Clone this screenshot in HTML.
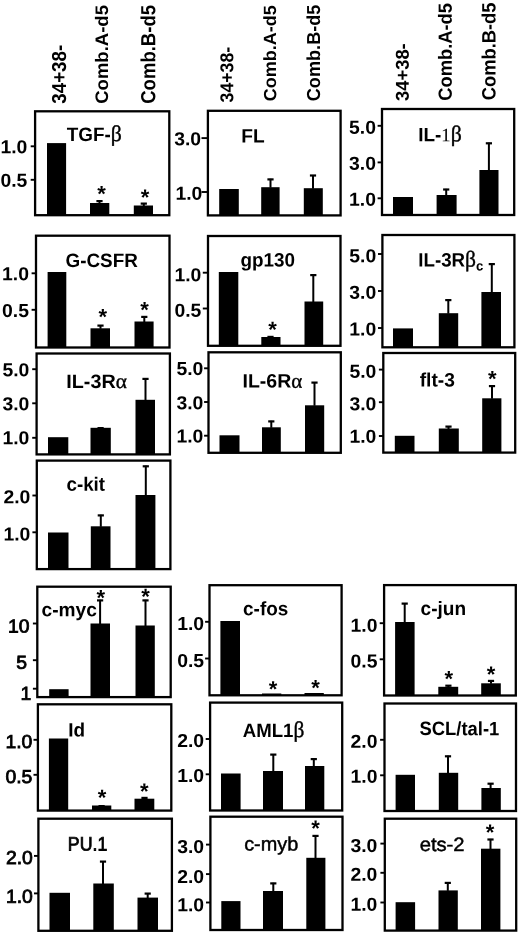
<!DOCTYPE html>
<html lang="en"><head><meta charset="utf-8"><title>Figure</title>
<style>html,body{margin:0;padding:0;background:#fff}svg{display:block}text{font-family:"Liberation Sans", sans-serif;font-weight:bold;fill:#000;font-kerning:none}.g{font-family:"Liberation Serif", serif;font-weight:normal;stroke:#000;stroke-width:0.4px}.h{stroke-width:0.15px}</style></head><body>
<svg width="520" height="935" viewBox="0 0 520 935">
<rect width="520" height="935" fill="#fff"/>
<g>
<rect x="35.1" y="111.3" width="134.2" height="103.9" fill="none" stroke="#000" stroke-width="2.3"/>
<line x1="30.7" y1="146.3" x2="35.1" y2="146.3" stroke="#000" stroke-width="1.9"/>
<text transform="translate(27.3 153.26) scale(1.03 1) rotate(0.04)" text-anchor="end" font-size="18.8">1.0</text>
<line x1="30.7" y1="179.8" x2="35.1" y2="179.8" stroke="#000" stroke-width="1.9"/>
<text transform="translate(27.3 186.76) scale(1.03 1) rotate(0.04)" text-anchor="end" font-size="18.8">0.5</text>
<rect x="47" y="143.1" width="19.1" height="72.1" fill="#000"/>
<rect x="90" y="203" width="19.3" height="12.2" fill="#000"/>
<path d="M99.5 203.5V200.5" stroke="#000" stroke-width="2" fill="none"/><path d="M96.4 201.1H102.6" stroke="#000" stroke-width="2.2" fill="none"/>
<rect x="133.8" y="205.5" width="19.2" height="9.7" fill="#000"/>
<path d="M143.8 206V203" stroke="#000" stroke-width="2" fill="none"/><path d="M140.7 203.6H146.9" stroke="#000" stroke-width="2.2" fill="none"/>
<text transform="translate(101.5 201.34) rotate(0.04)" text-anchor="middle" font-size="22.0">*</text>
<text transform="translate(145 204.64) rotate(0.04)" text-anchor="middle" font-size="22.0">*</text>
<text transform="translate(66.79 141) scale(0.974 1) rotate(0.04)" font-size="19.4" style="font-weight:bold">TGF-<tspan class="g" font-size="22.31">β</tspan></text>
</g>
<g>
<rect x="207.9" y="110.8" width="132.7" height="104.6" fill="none" stroke="#000" stroke-width="2.3"/>
<line x1="201.5" y1="138.1" x2="207.9" y2="138.1" stroke="#000" stroke-width="1.9"/>
<text transform="translate(201.1 145.36) scale(1.03 1) rotate(0.04)" text-anchor="end" font-size="18.8">3.0</text>
<line x1="201.5" y1="192" x2="207.9" y2="192" stroke="#000" stroke-width="1.9"/>
<text transform="translate(202.4 199.76) scale(1.03 1) rotate(0.04)" text-anchor="end" font-size="18.8">1.0</text>
<rect x="219.2" y="189" width="19.6" height="26.4" fill="#000"/>
<rect x="261.2" y="187.2" width="18.4" height="28.2" fill="#000"/>
<path d="M270.5 187.7V178.8" stroke="#000" stroke-width="2" fill="none"/><path d="M267.4 179.4H273.6" stroke="#000" stroke-width="2.2" fill="none"/>
<rect x="303.8" y="188.2" width="19" height="27.2" fill="#000"/>
<path d="M313 188.7V174.9" stroke="#000" stroke-width="2" fill="none"/><path d="M309.9 175.5H316.1" stroke="#000" stroke-width="2.2" fill="none"/>
<text transform="translate(241.22 142.5) scale(0.986 1) rotate(0.04)" font-size="19.4" style="font-weight:bold">FL</text>
</g>
<g>
<rect x="382" y="109" width="132.2" height="106" fill="none" stroke="#000" stroke-width="2.3"/>
<line x1="377.6" y1="125.8" x2="382" y2="125.8" stroke="#000" stroke-width="1.9"/>
<text transform="translate(376 133.86) scale(1.03 1) rotate(0.04)" text-anchor="end" font-size="18.8">5.0</text>
<line x1="377.6" y1="162.4" x2="382" y2="162.4" stroke="#000" stroke-width="1.9"/>
<text transform="translate(376 169.86) scale(1.03 1) rotate(0.04)" text-anchor="end" font-size="18.8">3.0</text>
<line x1="377.6" y1="198.3" x2="382" y2="198.3" stroke="#000" stroke-width="1.9"/>
<text transform="translate(376 205.76) scale(1.03 1) rotate(0.04)" text-anchor="end" font-size="18.8">1.0</text>
<rect x="393" y="197" width="20" height="18" fill="#000"/>
<rect x="436.6" y="195" width="20" height="20" fill="#000"/>
<path d="M446.2 195.5V188.9" stroke="#000" stroke-width="2" fill="none"/><path d="M443.1 189.5H449.3" stroke="#000" stroke-width="2.2" fill="none"/>
<rect x="479.4" y="170" width="19.1" height="45" fill="#000"/>
<path d="M488.9 170.5V142.7" stroke="#000" stroke-width="2" fill="none"/><path d="M485.8 143.3H492" stroke="#000" stroke-width="2.2" fill="none"/>
<text transform="translate(418.23 141.2) scale(0.976 1) rotate(0.04)" font-size="19.4" style="font-weight:bold">IL-<tspan class="g h" font-size="19.01">1</tspan><tspan class="g" font-size="22.31">β</tspan></text>
</g>
<g>
<rect x="36" y="235.7" width="133.5" height="111.8" fill="none" stroke="#000" stroke-width="2.3"/>
<line x1="31.6" y1="273.3" x2="36" y2="273.3" stroke="#000" stroke-width="1.9"/>
<text transform="translate(29 280.36) scale(1.03 1) rotate(0.04)" text-anchor="end" font-size="18.8">1.0</text>
<line x1="31.6" y1="309.8" x2="36" y2="309.8" stroke="#000" stroke-width="1.9"/>
<text transform="translate(29 317.06) scale(1.03 1) rotate(0.04)" text-anchor="end" font-size="18.8">0.5</text>
<rect x="47.6" y="272" width="18.7" height="75.5" fill="#000"/>
<rect x="90.5" y="328.3" width="19.5" height="19.2" fill="#000"/>
<path d="M100.5 328.8V325" stroke="#000" stroke-width="2" fill="none"/><path d="M97.4 325.6H103.6" stroke="#000" stroke-width="2.2" fill="none"/>
<rect x="134.5" y="321.5" width="19.1" height="26" fill="#000"/>
<path d="M144.3 322V316.3" stroke="#000" stroke-width="2" fill="none"/><path d="M141.2 316.9H147.4" stroke="#000" stroke-width="2.2" fill="none"/>
<text transform="translate(102.8 324.24) rotate(0.04)" text-anchor="middle" font-size="22.0">*</text>
<text transform="translate(144.5 317.34) rotate(0.04)" text-anchor="middle" font-size="22.0">*</text>
<text transform="translate(65.53 266.9) scale(0.973 1) rotate(0.04)" font-size="19.4" style="font-weight:bold">G-CSFR</text>
</g>
<g>
<rect x="208" y="236" width="132.5" height="109.8" fill="none" stroke="#000" stroke-width="2.3"/>
<line x1="202.8" y1="272.7" x2="208" y2="272.7" stroke="#000" stroke-width="1.9"/>
<text transform="translate(201.4 281.16) scale(1.03 1) rotate(0.04)" text-anchor="end" font-size="18.8">1.0</text>
<line x1="202.8" y1="308.5" x2="208" y2="308.5" stroke="#000" stroke-width="1.9"/>
<text transform="translate(201.4 316.86) scale(1.03 1) rotate(0.04)" text-anchor="end" font-size="18.8">0.5</text>
<rect x="218.8" y="272" width="19.5" height="73.8" fill="#000"/>
<rect x="261.3" y="337" width="19.2" height="8.8" fill="#000"/>
<path d="M270.5 337.5V336.3" stroke="#000" stroke-width="2" fill="none"/><path d="M267.4 336.9H273.6" stroke="#000" stroke-width="2.2" fill="none"/>
<rect x="304.5" y="301.5" width="18.7" height="44.3" fill="#000"/>
<path d="M313.3 302V274.5" stroke="#000" stroke-width="2" fill="none"/><path d="M310.2 275.1H316.4" stroke="#000" stroke-width="2.2" fill="none"/>
<text transform="translate(272.5 337.04) rotate(0.04)" text-anchor="middle" font-size="22.0">*</text>
<text transform="translate(240.53 266.5) scale(0.973 1) rotate(0.04)" font-size="19.4" style="font-weight:bold">gp130</text>
</g>
<g>
<rect x="382.4" y="235" width="132" height="112.3" fill="none" stroke="#000" stroke-width="2.3"/>
<line x1="378" y1="254" x2="382.4" y2="254" stroke="#000" stroke-width="1.9"/>
<text transform="translate(376.2 262.36) scale(1.03 1) rotate(0.04)" text-anchor="end" font-size="18.8">5.0</text>
<line x1="378" y1="291" x2="382.4" y2="291" stroke="#000" stroke-width="1.9"/>
<text transform="translate(376.2 298.66) scale(1.03 1) rotate(0.04)" text-anchor="end" font-size="18.8">3.0</text>
<line x1="378" y1="328" x2="382.4" y2="328" stroke="#000" stroke-width="1.9"/>
<text transform="translate(376.2 335.56) scale(1.03 1) rotate(0.04)" text-anchor="end" font-size="18.8">1.0</text>
<rect x="393" y="328.4" width="20" height="18.9" fill="#000"/>
<rect x="438.8" y="313.2" width="19.4" height="34.1" fill="#000"/>
<path d="M448.3 313.7V299.5" stroke="#000" stroke-width="2" fill="none"/><path d="M445.2 300.1H451.4" stroke="#000" stroke-width="2.2" fill="none"/>
<rect x="481.4" y="292" width="19.6" height="55.3" fill="#000"/>
<path d="M491.8 292.5V263.5" stroke="#000" stroke-width="2" fill="none"/><path d="M488.7 264.1H494.9" stroke="#000" stroke-width="2.2" fill="none"/>
<text transform="translate(418.25 266.5) scale(0.966 1) rotate(0.04)" font-size="19.4" style="font-weight:bold">IL-3R<tspan class="g" font-size="22.31">β</tspan><tspan dy="3.88" font-size="13.58">c</tspan></text>
</g>
<g>
<rect x="36.6" y="353.5" width="133.3" height="100.9" fill="none" stroke="#000" stroke-width="2.3"/>
<line x1="32.2" y1="369.2" x2="36.6" y2="369.2" stroke="#000" stroke-width="1.9"/>
<text transform="translate(29.3 376.26) scale(1.03 1) rotate(0.04)" text-anchor="end" font-size="18.8">5.0</text>
<line x1="32.2" y1="403.3" x2="36.6" y2="403.3" stroke="#000" stroke-width="1.9"/>
<text transform="translate(29.3 410.36) scale(1.03 1) rotate(0.04)" text-anchor="end" font-size="18.8">3.0</text>
<line x1="32.2" y1="437.8" x2="36.6" y2="437.8" stroke="#000" stroke-width="1.9"/>
<text transform="translate(29.3 444.16) scale(1.03 1) rotate(0.04)" text-anchor="end" font-size="18.8">1.0</text>
<rect x="48" y="437.2" width="20.3" height="17.2" fill="#000"/>
<rect x="90.5" y="427.8" width="20.3" height="26.6" fill="#000"/>
<path d="M100.6 428.3V427.5" stroke="#000" stroke-width="2" fill="none"/><path d="M97.5 428.1H103.7" stroke="#000" stroke-width="2.2" fill="none"/>
<rect x="135.5" y="399.8" width="19.5" height="54.6" fill="#000"/>
<path d="M145.5 400.3V378.3" stroke="#000" stroke-width="2" fill="none"/><path d="M142.4 378.9H148.6" stroke="#000" stroke-width="2.2" fill="none"/>
<text transform="translate(66.28 388) scale(1.019 1) rotate(0.04)" font-size="19.4" style="font-weight:bold">IL-3R<tspan class="g" font-size="20.95">α</tspan></text>
</g>
<g>
<rect x="208.5" y="352.3" width="132.3" height="100.5" fill="none" stroke="#000" stroke-width="2.3"/>
<line x1="204.1" y1="368.3" x2="208.5" y2="368.3" stroke="#000" stroke-width="1.9"/>
<text transform="translate(203.3 375.06) scale(1.03 1) rotate(0.04)" text-anchor="end" font-size="18.8">5.0</text>
<line x1="204.1" y1="402" x2="208.5" y2="402" stroke="#000" stroke-width="1.9"/>
<text transform="translate(203.3 409.16) scale(1.03 1) rotate(0.04)" text-anchor="end" font-size="18.8">3.0</text>
<line x1="204.1" y1="435.7" x2="208.5" y2="435.7" stroke="#000" stroke-width="1.9"/>
<text transform="translate(203.3 442.46) scale(1.03 1) rotate(0.04)" text-anchor="end" font-size="18.8">1.0</text>
<rect x="219.5" y="435.3" width="20" height="17.5" fill="#000"/>
<rect x="262" y="427.3" width="18.8" height="25.5" fill="#000"/>
<path d="M271.3 427.8V420.8" stroke="#000" stroke-width="2" fill="none"/><path d="M268.2 421.4H274.4" stroke="#000" stroke-width="2.2" fill="none"/>
<rect x="305" y="405.3" width="19.2" height="47.5" fill="#000"/>
<path d="M314.5 405.8V382" stroke="#000" stroke-width="2" fill="none"/><path d="M311.4 382.6H317.6" stroke="#000" stroke-width="2.2" fill="none"/>
<text transform="translate(242.5 387.6) scale(1.005 1) rotate(0.04)" font-size="19.4" style="font-weight:bold">IL-6R<tspan class="g" font-size="20.95">α</tspan></text>
</g>
<g>
<rect x="383.3" y="353" width="131.9" height="99.6" fill="none" stroke="#000" stroke-width="2.3"/>
<line x1="378.9" y1="369.6" x2="383.3" y2="369.6" stroke="#000" stroke-width="1.9"/>
<text transform="translate(376.4 377.76) scale(1.03 1) rotate(0.04)" text-anchor="end" font-size="18.8">5.0</text>
<line x1="378.9" y1="402.2" x2="383.3" y2="402.2" stroke="#000" stroke-width="1.9"/>
<text transform="translate(376.4 410.26) scale(1.03 1) rotate(0.04)" text-anchor="end" font-size="18.8">3.0</text>
<line x1="378.9" y1="436" x2="383.3" y2="436" stroke="#000" stroke-width="1.9"/>
<text transform="translate(376.4 442.86) scale(1.03 1) rotate(0.04)" text-anchor="end" font-size="18.8">1.0</text>
<rect x="394.8" y="435.8" width="19.7" height="16.8" fill="#000"/>
<rect x="438.8" y="428.5" width="20" height="24.1" fill="#000"/>
<path d="M448.5 429V426" stroke="#000" stroke-width="2" fill="none"/><path d="M445.4 426.6H451.6" stroke="#000" stroke-width="2.2" fill="none"/>
<rect x="482.2" y="398.3" width="19.2" height="54.3" fill="#000"/>
<path d="M492 398.8V385.5" stroke="#000" stroke-width="2" fill="none"/><path d="M488.9 386.1H495.1" stroke="#000" stroke-width="2.2" fill="none"/>
<text transform="translate(492.3 386.34) rotate(0.04)" text-anchor="middle" font-size="22.0">*</text>
<text transform="translate(419.67 386.6) scale(0.991 1) rotate(0.04)" font-size="19.4" style="font-weight:bold">flt-3</text>
</g>
<g>
<rect x="36.8" y="460.6" width="133.6" height="108.5" fill="none" stroke="#000" stroke-width="2.3"/>
<line x1="32.4" y1="495.5" x2="36.8" y2="495.5" stroke="#000" stroke-width="1.9"/>
<text transform="translate(30.3 503.36) scale(1.03 1) rotate(0.04)" text-anchor="end" font-size="18.8">2.0</text>
<line x1="32.4" y1="532.3" x2="36.8" y2="532.3" stroke="#000" stroke-width="1.9"/>
<text transform="translate(30.3 540.46) scale(1.03 1) rotate(0.04)" text-anchor="end" font-size="18.8">1.0</text>
<rect x="48" y="532.5" width="20.5" height="36.6" fill="#000"/>
<rect x="90.8" y="526.3" width="19.7" height="42.8" fill="#000"/>
<path d="M100.8 526.8V514.8" stroke="#000" stroke-width="2" fill="none"/><path d="M97.7 515.4H103.9" stroke="#000" stroke-width="2.2" fill="none"/>
<rect x="135.5" y="495" width="19.9" height="74.1" fill="#000"/>
<path d="M145.8 495.5V465.7" stroke="#000" stroke-width="2" fill="none"/><path d="M142.7 466.3H148.9" stroke="#000" stroke-width="2.2" fill="none"/>
<text transform="translate(66.47 490.7) scale(0.967 1) rotate(0.04)" font-size="19.4" style="font-weight:bold">c-kit</text>
</g>
<g>
<rect x="37.3" y="586.7" width="133.4" height="110.4" fill="none" stroke="#000" stroke-width="2.3"/>
<line x1="32.9" y1="623.5" x2="37.3" y2="623.5" stroke="#000" stroke-width="1.9"/>
<text transform="translate(29.6 632.56) scale(1.03 1) rotate(0.04)" text-anchor="end" font-size="18.8" style="font-weight:normal;stroke:#000;stroke-width:0.8px">10</text>
<line x1="32.9" y1="660.2" x2="37.3" y2="660.2" stroke="#000" stroke-width="1.9"/>
<text transform="translate(27.1 668.76) scale(1.03 1) rotate(0.04)" text-anchor="end" font-size="18.8" style="font-weight:normal;stroke:#000;stroke-width:0.8px">5</text>
<line x1="32.9" y1="688.7" x2="37.3" y2="688.7" stroke="#000" stroke-width="1.9"/>
<text transform="translate(31.4 699.76) scale(1.03 1) rotate(0.04)" text-anchor="end" font-size="18.8" style="font-weight:normal;stroke:#000;stroke-width:0.8px">1</text>
<rect x="49.2" y="689.2" width="19.4" height="7.9" fill="#000"/>
<rect x="90.5" y="623.5" width="19.5" height="73.6" fill="#000"/>
<path d="M100.1 624V599.8" stroke="#000" stroke-width="2" fill="none"/><path d="M97 600.4H103.2" stroke="#000" stroke-width="2.2" fill="none"/>
<rect x="135.5" y="625.5" width="19.3" height="71.6" fill="#000"/>
<path d="M145.5 626V599.8" stroke="#000" stroke-width="2" fill="none"/><path d="M142.4 600.4H148.6" stroke="#000" stroke-width="2.2" fill="none"/>
<text transform="translate(100.8 605.34) rotate(0.04)" text-anchor="middle" font-size="22.0">*</text>
<text transform="translate(145.5 604.04) rotate(0.04)" text-anchor="middle" font-size="22.0">*</text>
<text transform="translate(41.55 616.3) scale(0.986 1) rotate(0.04)" font-size="19.4" style="font-weight:bold">c-myc</text>
</g>
<g>
<rect x="209.5" y="585.2" width="132.1" height="110.1" fill="none" stroke="#000" stroke-width="2.3"/>
<line x1="205.1" y1="621.8" x2="209.5" y2="621.8" stroke="#000" stroke-width="1.9"/>
<text transform="translate(204.1 629.96) scale(1.03 1) rotate(0.04)" text-anchor="end" font-size="18.8">1.0</text>
<line x1="205.1" y1="658.5" x2="209.5" y2="658.5" stroke="#000" stroke-width="1.9"/>
<text transform="translate(204.1 667.06) scale(1.03 1) rotate(0.04)" text-anchor="end" font-size="18.8">0.5</text>
<rect x="220.4" y="621" width="19.6" height="74.3" fill="#000"/>
<rect x="262" y="693.5" width="19.3" height="1.8" fill="#000"/>
<rect x="304.5" y="693" width="19.3" height="2.3" fill="#000"/>
<text transform="translate(273 696.54) rotate(0.04)" text-anchor="middle" font-size="22.0">*</text>
<text transform="translate(315.5 695.34) rotate(0.04)" text-anchor="middle" font-size="22.0">*</text>
<text transform="translate(243.06 615.3) scale(0.976 1) rotate(0.04)" font-size="19.4" style="font-weight:bold">c-fos</text>
</g>
<g>
<rect x="384.1" y="585.1" width="131.7" height="110.4" fill="none" stroke="#000" stroke-width="2.3"/>
<line x1="379.7" y1="623.2" x2="384.1" y2="623.2" stroke="#000" stroke-width="1.9"/>
<text transform="translate(377.5 631.76) scale(1.03 1) rotate(0.04)" text-anchor="end" font-size="18.8">1.0</text>
<line x1="379.7" y1="659.3" x2="384.1" y2="659.3" stroke="#000" stroke-width="1.9"/>
<text transform="translate(377.5 667.46) scale(1.03 1) rotate(0.04)" text-anchor="end" font-size="18.8">0.5</text>
<rect x="395.1" y="622" width="19.5" height="73.5" fill="#000"/>
<path d="M404.7 622.5V603" stroke="#000" stroke-width="2" fill="none"/><path d="M401.6 603.6H407.8" stroke="#000" stroke-width="2.2" fill="none"/>
<rect x="438.3" y="686.8" width="19.9" height="8.7" fill="#000"/>
<path d="M448.4 687.3V685.1" stroke="#000" stroke-width="2" fill="none"/><path d="M445.3 685.7H451.5" stroke="#000" stroke-width="2.2" fill="none"/>
<rect x="481.2" y="683.3" width="19.6" height="12.2" fill="#000"/>
<path d="M491 683.8V680.3" stroke="#000" stroke-width="2" fill="none"/><path d="M487.9 680.9H494.1" stroke="#000" stroke-width="2.2" fill="none"/>
<text transform="translate(448.9 686.34) rotate(0.04)" text-anchor="middle" font-size="22.0">*</text>
<text transform="translate(491 681.74) rotate(0.04)" text-anchor="middle" font-size="22.0">*</text>
<text transform="translate(420.56 615) scale(0.982 1) rotate(0.04)" font-size="19.4" style="font-weight:bold">c-jun</text>
</g>
<g>
<rect x="37.9" y="704.3" width="133.4" height="106.3" fill="none" stroke="#000" stroke-width="2.3"/>
<line x1="33.5" y1="739.8" x2="37.9" y2="739.8" stroke="#000" stroke-width="1.9"/>
<text transform="translate(32.3 747.96) scale(1.03 1) rotate(0.04)" text-anchor="end" font-size="18.8" style="font-weight:normal;stroke:#000;stroke-width:0.8px">1.0</text>
<line x1="33.5" y1="774.8" x2="37.9" y2="774.8" stroke="#000" stroke-width="1.9"/>
<text transform="translate(32.3 782.96) scale(1.03 1) rotate(0.04)" text-anchor="end" font-size="18.8" style="font-weight:normal;stroke:#000;stroke-width:0.8px">0.5</text>
<rect x="48.9" y="738.5" width="19.3" height="72.1" fill="#000"/>
<rect x="92" y="805.5" width="19.3" height="5.1" fill="#000"/>
<path d="M101.6 806V805.5" stroke="#000" stroke-width="2" fill="none"/><path d="M98.5 806.1H104.7" stroke="#000" stroke-width="2.2" fill="none"/>
<rect x="134.5" y="798.7" width="19.8" height="11.9" fill="#000"/>
<path d="M144.5 799.2V797.3" stroke="#000" stroke-width="2" fill="none"/><path d="M141.4 797.9H147.6" stroke="#000" stroke-width="2.2" fill="none"/>
<text transform="translate(102 805.04) rotate(0.04)" text-anchor="middle" font-size="22.0">*</text>
<text transform="translate(144.3 798.84) rotate(0.04)" text-anchor="middle" font-size="22.0">*</text>
<text transform="translate(68.23 736.4) scale(0.975 1) rotate(0.04)" font-size="19.4" style="font-weight:bold">Id</text>
</g>
<g>
<rect x="210.1" y="702.6" width="132.1" height="107.9" fill="none" stroke="#000" stroke-width="2.3"/>
<line x1="205.7" y1="739" x2="210.1" y2="739" stroke="#000" stroke-width="1.9"/>
<text transform="translate(204.1 746.96) scale(1.03 1) rotate(0.04)" text-anchor="end" font-size="18.8">2.0</text>
<line x1="205.7" y1="774.3" x2="210.1" y2="774.3" stroke="#000" stroke-width="1.9"/>
<text transform="translate(204.1 782.06) scale(1.03 1) rotate(0.04)" text-anchor="end" font-size="18.8">1.0</text>
<rect x="221" y="773.5" width="19.6" height="37" fill="#000"/>
<rect x="263" y="771" width="20" height="39.5" fill="#000"/>
<path d="M273.3 771.5V754" stroke="#000" stroke-width="2" fill="none"/><path d="M270.2 754.6H276.4" stroke="#000" stroke-width="2.2" fill="none"/>
<rect x="305" y="766" width="19.3" height="44.5" fill="#000"/>
<path d="M313.8 766.5V758.5" stroke="#000" stroke-width="2" fill="none"/><path d="M310.7 759.1H316.9" stroke="#000" stroke-width="2.2" fill="none"/>
<text transform="translate(242.74 736.9) scale(0.96 1) rotate(0.04)" font-size="19.4" style="font-weight:bold">AML1<tspan class="g" font-size="22.31">β</tspan></text>
</g>
<g>
<rect x="384.5" y="703.5" width="131.5" height="107.5" fill="none" stroke="#000" stroke-width="2.3"/>
<line x1="380.1" y1="739.8" x2="384.5" y2="739.8" stroke="#000" stroke-width="1.9"/>
<text transform="translate(377.5 747.76) scale(1.03 1) rotate(0.04)" text-anchor="end" font-size="18.8">2.0</text>
<line x1="380.1" y1="775.3" x2="384.5" y2="775.3" stroke="#000" stroke-width="1.9"/>
<text transform="translate(377.5 782.86) scale(1.03 1) rotate(0.04)" text-anchor="end" font-size="18.8">1.0</text>
<rect x="395.6" y="774.8" width="19.4" height="36.2" fill="#000"/>
<rect x="438.8" y="772.8" width="19.4" height="38.2" fill="#000"/>
<path d="M448 773.3V755.7" stroke="#000" stroke-width="2" fill="none"/><path d="M444.9 756.3H451.1" stroke="#000" stroke-width="2.2" fill="none"/>
<rect x="481.4" y="788" width="19.4" height="23" fill="#000"/>
<path d="M490.6 788.5V783.1" stroke="#000" stroke-width="2" fill="none"/><path d="M487.5 783.7H493.7" stroke="#000" stroke-width="2.2" fill="none"/>
<text transform="translate(419.47 735.1) scale(0.95 1) rotate(0.04)" font-size="19.4" style="font-weight:bold">SCL/tal-1</text>
</g>
<g>
<rect x="38.4" y="818.7" width="133.5" height="112.1" fill="none" stroke="#000" stroke-width="2.3"/>
<line x1="34" y1="855.9" x2="38.4" y2="855.9" stroke="#000" stroke-width="1.9"/>
<text transform="translate(32.8 864.06) scale(1.03 1) rotate(0.04)" text-anchor="end" font-size="18.8" style="font-weight:normal;stroke:#000;stroke-width:0.8px">2.0</text>
<line x1="34" y1="893.4" x2="38.4" y2="893.4" stroke="#000" stroke-width="1.9"/>
<text transform="translate(32.8 902.76) scale(1.03 1) rotate(0.04)" text-anchor="end" font-size="18.8" style="font-weight:normal;stroke:#000;stroke-width:0.8px">1.0</text>
<rect x="49.5" y="892.8" width="20.5" height="38" fill="#000"/>
<rect x="93.3" y="883.5" width="20.5" height="47.3" fill="#000"/>
<path d="M103 884V861" stroke="#000" stroke-width="2" fill="none"/><path d="M99.9 861.6H106.1" stroke="#000" stroke-width="2.2" fill="none"/>
<rect x="137.5" y="897.6" width="20.5" height="33.2" fill="#000"/>
<path d="M147.7 898.1V893" stroke="#000" stroke-width="2" fill="none"/><path d="M144.6 893.6H150.8" stroke="#000" stroke-width="2.2" fill="none"/>
<text transform="translate(67.84 850.6) scale(0.916 1) rotate(0.04)" font-size="19.4" style="font-weight:normal;stroke:#000;stroke-width:0.8px">PU.1</text>
</g>
<g>
<rect x="210.4" y="816.7" width="132.1" height="113.3" fill="none" stroke="#000" stroke-width="2.3"/>
<line x1="206" y1="844.6" x2="210.4" y2="844.6" stroke="#000" stroke-width="1.9"/>
<text transform="translate(204.1 853.06) scale(1.03 1) rotate(0.04)" text-anchor="end" font-size="18.8">3.0</text>
<line x1="206" y1="874.1" x2="210.4" y2="874.1" stroke="#000" stroke-width="1.9"/>
<text transform="translate(204.1 883.06) scale(1.03 1) rotate(0.04)" text-anchor="end" font-size="18.8">2.0</text>
<line x1="206" y1="902.5" x2="210.4" y2="902.5" stroke="#000" stroke-width="1.9"/>
<text transform="translate(204.1 911.36) scale(1.03 1) rotate(0.04)" text-anchor="end" font-size="18.8">1.0</text>
<rect x="221.3" y="901.1" width="19.2" height="28.9" fill="#000"/>
<rect x="263" y="891" width="20" height="39" fill="#000"/>
<path d="M273.3 891.5V882.8" stroke="#000" stroke-width="2" fill="none"/><path d="M270.2 883.4H276.4" stroke="#000" stroke-width="2.2" fill="none"/>
<rect x="306.3" y="857.8" width="19.1" height="72.2" fill="#000"/>
<path d="M315.5 858.3V835.3" stroke="#000" stroke-width="2" fill="none"/><path d="M312.4 835.9H318.6" stroke="#000" stroke-width="2.2" fill="none"/>
<text transform="translate(315.5 835.84) rotate(0.04)" text-anchor="middle" font-size="22.0">*</text>
<text transform="translate(244.15 850.5) scale(1.026 1) rotate(0.04)" font-size="19.4" style="font-weight:normal;stroke:#000;stroke-width:0.45px">c-myb</text>
</g>
<g>
<rect x="384.8" y="818.7" width="131.4" height="111.9" fill="none" stroke="#000" stroke-width="2.3"/>
<line x1="380.4" y1="843.6" x2="384.8" y2="843.6" stroke="#000" stroke-width="1.9"/>
<text transform="translate(377.4 851.96) scale(1.03 1) rotate(0.04)" text-anchor="end" font-size="18.8">3.0</text>
<line x1="380.4" y1="872.8" x2="384.8" y2="872.8" stroke="#000" stroke-width="1.9"/>
<text transform="translate(377.4 880.76) scale(1.03 1) rotate(0.04)" text-anchor="end" font-size="18.8">2.0</text>
<line x1="380.4" y1="902.5" x2="384.8" y2="902.5" stroke="#000" stroke-width="1.9"/>
<text transform="translate(377.4 910.76) scale(1.03 1) rotate(0.04)" text-anchor="end" font-size="18.8">1.0</text>
<rect x="395.6" y="902.2" width="19.5" height="28.4" fill="#000"/>
<rect x="438.5" y="890.4" width="19.3" height="40.2" fill="#000"/>
<path d="M447.8 890.9V882.3" stroke="#000" stroke-width="2" fill="none"/><path d="M444.7 882.9H450.9" stroke="#000" stroke-width="2.2" fill="none"/>
<rect x="481" y="848.7" width="19.4" height="81.9" fill="#000"/>
<path d="M490.5 849.2V838.9" stroke="#000" stroke-width="2" fill="none"/><path d="M487.4 839.5H493.6" stroke="#000" stroke-width="2.2" fill="none"/>
<text transform="translate(490 839.84) rotate(0.04)" text-anchor="middle" font-size="22.0">*</text>
<text transform="translate(419.64 851.1) scale(1.043 1) rotate(0.04)" font-size="19.4" style="font-weight:normal;stroke:#000;stroke-width:0.45px">ets-2</text>
</g>
<text transform="translate(66.07 103.73) rotate(-90.04) scale(0.931 1)" font-size="20.16">34+38-</text>
<text transform="translate(108.12 103.76) rotate(-90.04) scale(1.023 1)" font-size="18.11">Comb.A-d5</text>
<text transform="translate(155.3 103.76) rotate(-90.04) scale(0.907 1)" font-size="20.43">Comb.B-d5</text>
<text transform="translate(233.29 102.41) rotate(-90.04) scale(0.951 1)" font-size="18.61">34+38-</text>
<text transform="translate(276.13 101.24) rotate(-90.04) scale(1.019 1)" font-size="17.7">Comb.A-d5</text>
<text transform="translate(320.12 101.24) rotate(-90.04) scale(0.965 1)" font-size="18.79">Comb.B-d5</text>
<text transform="translate(408.79 100.92) rotate(-90.04) scale(0.986 1)" font-size="18.61">34+38-</text>
<text transform="translate(451.81 100.75) rotate(-90.04) scale(0.962 1)" font-size="19.06">Comb.A-d5</text>
<text transform="translate(495.51 100.25) rotate(-90.04) scale(0.948 1)" font-size="19.34">Comb.B-d5</text>
</svg></body></html>
